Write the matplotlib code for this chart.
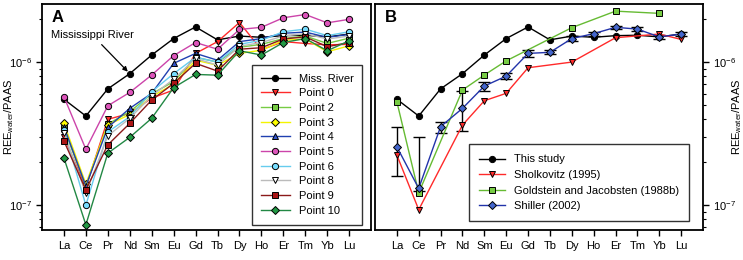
import numpy as np
import matplotlib
matplotlib.use("Agg")
import matplotlib.pyplot as plt
from matplotlib.ticker import LogLocator, NullFormatter

plt.rcParams['font.family'] = ['Liberation Sans', 'DejaVu Sans']
plt.rcParams['mathtext.fontset'] = 'custom'
plt.rcParams['mathtext.rm'] = 'Liberation Sans'

# REE labels
ree = ["La", "Ce", "Pr", "Nd", "Sm", "Eu", "Gd", "Tb", "Dy", "Ho", "Er", "Tm", "Yb", "Lu"]

# panel A  (REE_water / PAAS)
miss_river = [5.5e-7, 4.2e-7, 6.5e-7, 8.3e-7, 1.12e-6, 1.46e-6, 1.76e-6, 1.43e-6, 1.52e-6, 1.49e-6, 1.53e-6, 1.54e-6, 1.50e-6, 1.57e-6]
point0 = [3.0e-7, 1.33e-7, 3.98e-7, 4.38e-7, 5.6e-7, 6.38e-7, 1.15e-6, 1.39e-6, 1.89e-6, 1.22e-6, 1.39e-6, 1.35e-6, 1.32e-6, 1.33e-6]
point2 = [3.45e-7, 1.35e-7, 3.69e-7, 4.5e-7, 6.0e-7, 7.3e-7, 1.08e-6, 1.0e-6, 1.27e-6, 1.33e-6, 1.46e-6, 1.52e-6, 1.35e-6, 1.47e-6]
point3 = [3.73e-7, 1.41e-7, 3.64e-7, 4.3e-7, 5.75e-7, 7.0e-7, 1.03e-6, 9.5e-7, 1.15e-6, 1.21e-6, 1.42e-6, 1.45e-6, 1.18e-6, 1.30e-6]
point4 = [3.54e-7, 1.36e-7, 3.5e-7, 4.75e-7, 6.05e-7, 9.8e-7, 1.15e-6, 1.03e-6, 1.39e-6, 1.46e-6, 1.59e-6, 1.62e-6, 1.49e-6, 1.56e-6]
point5 = [5.73e-7, 2.46e-7, 4.95e-7, 6.14e-7, 8.12e-7, 1.11e-6, 1.37e-6, 1.23e-6, 1.69e-6, 1.75e-6, 2.04e-6, 2.15e-6, 1.88e-6, 1.99e-6]
point6 = [3.35e-7, 1.0e-7, 3.25e-7, 4.15e-7, 6.21e-7, 8.3e-7, 1.08e-6, 1.0e-6, 1.33e-6, 1.42e-6, 1.63e-6, 1.70e-6, 1.53e-6, 1.63e-6]
point8 = [3.2e-7, 1.21e-7, 3.05e-7, 4.05e-7, 5.8e-7, 7.6e-7, 1.06e-6, 9.5e-7, 1.29e-6, 1.37e-6, 1.52e-6, 1.58e-6, 1.45e-6, 1.52e-6]
point9 = [2.81e-7, 1.28e-7, 2.64e-7, 3.73e-7, 5.43e-7, 7.1e-7, 9.8e-7, 8.65e-7, 1.23e-6, 1.26e-6, 1.45e-6, 1.50e-6, 1.28e-6, 1.37e-6]
point10 = [2.14e-7, 7.3e-8, 2.31e-7, 2.98e-7, 4.05e-7, 6.63e-7, 8.2e-7, 8.1e-7, 1.2e-6, 1.12e-6, 1.37e-6, 1.46e-6, 1.2e-6, 1.41e-6]

# panel B  (nan = not reported)
this_study = miss_river
sholkovitz = [2.24e-7, 9.3e-8, np.nan, 3.63e-7, 5.37e-7, 6.05e-7, 9.13e-7, np.nan, 1.0e-6, np.nan, 1.48e-6, np.nan, 1.57e-6, 1.44e-6]
goldstein = [5.28e-7, 1.22e-7, np.nan, 6.38e-7, 8.12e-7, 1.02e-6, np.nan, np.nan, 1.74e-6, np.nan, 2.27e-6, np.nan, 2.19e-6, np.nan]
shiller = [2.56e-7, 1.31e-7, 3.54e-7, 4.75e-7, 6.8e-7, 7.98e-7, 1.15e-6, 1.17e-6, 1.46e-6, 1.58e-6, 1.75e-6, 1.70e-6, 1.50e-6, 1.57e-6]
shiller_lo = [1.61e-7, 1.25e-7, 3.2e-7, 3.3e-7, 6.3e-7, 7.6e-7, 1.09e-6, 1.13e-6, 1.40e-6, 1.53e-6, 1.70e-6, 1.65e-6, 1.46e-6, 1.52e-6]
shiller_hi = [3.5e-7, 3.0e-7, 3.83e-7, 6.3e-7, 7.3e-7, 8.4e-7, 1.21e-6, 1.21e-6, 1.52e-6, 1.63e-6, 1.80e-6, 1.75e-6, 1.54e-6, 1.62e-6]

x = np.arange(len(ree))
YLIM = (6.7e-8, 2.55e-6)

fig = plt.figure(figsize=(7.43, 2.6), dpi=100)
axA = fig.add_axes([0.0565, 0.115, 0.443, 0.870])
axB = fig.add_axes([0.5047, 0.115, 0.4415, 0.870])

ms = 4.5
mew = 0.7

seriesA = [
    ("Miss. River", miss_river, "black", "o", "black"),
    ("Point 0", point0, "#ff2a2a", "v", "#ff2a2a"),
    ("Point 2", point2, "#77cc44", "s", "#77cc44"),
    ("Point 3", point3, "#f4f400", "D", "#ffff00"),
    ("Point 4", point4, "#2040b0", "^", "#3355cc"),
    ("Point 5", point5, "#cc44aa", "o", "#dd55bb"),
    ("Point 6", point6, "#66ccee", "o", "#77ddff"),
    ("Point 8", point8, "#bbbbbb", "v", "white"),
    ("Point 9", point9, "#8b1a1a", "s", "#aa1515"),
    ("Point 10", point10, "#228844", "D", "#229944"),
]

for name, vals, col, mk, fc in seriesA:
    m = ms - 0.8 if mk == "D" else ms
    axA.plot(x, vals, color=col, lw=1.0, marker=mk, ms=m, mfc=fc, mec="black", mew=mew, label=name)

axA.annotate("Mississippi River", xy=(3, miss_river[3]), xytext=(-0.6, 1.55e-6),
             fontsize=8, ha="left", va="center",
             arrowprops=dict(arrowstyle="-|>", color="black", lw=0.9, mutation_scale=7))
axA.text(-0.55, 2.05e-6, "A", fontsize=12, fontweight="bold", va="center")

legA = axA.legend(loc="lower right", fontsize=8, frameon=True, fancybox=False,
                  edgecolor="black", borderpad=0.8, labelspacing=0.42, handlelength=2.6,
                  bbox_to_anchor=(0.99, 0.0))
legA.get_frame().set_linewidth(1.0)

# panel B
def draw(ax, vals, col, mk, fc, name, m=ms):
    v = np.array(vals, dtype=float)
    ok = ~np.isnan(v)
    ax.plot(x[ok], v[ok], color=col, lw=1.0, marker=mk, ms=m, mfc=fc, mec="black", mew=mew, label=name)

sh = np.array(shiller)
yerr = [sh - np.array(shiller_lo), np.array(shiller_hi) - sh]
axB.errorbar(x, sh, yerr=yerr, fmt="none", ecolor="black", elinewidth=1.0, capsize=4.5, capthick=1.0, zorder=1)

draw(axB, this_study, "black", "o", "black", "This study")
draw(axB, sholkovitz, "#ff2a2a", "v", "#ff2a2a", "Sholkovitz (1995)")
draw(axB, goldstein, "#66bb33", "s", "#77cc44", "Goldstein and Jacobsten (1988b)")
draw(axB, shiller, "#2233aa", "D", "#4466cc", "Shiller (2002)", m=ms - 0.8)

axB.text(-0.55, 2.05e-6, "B", fontsize=12, fontweight="bold", va="center")

legB = axB.legend(loc="lower right", fontsize=8, frameon=True, fancybox=False,
                  edgecolor="black", borderpad=0.9, labelspacing=0.5, handlelength=2.4,
                  bbox_to_anchor=(0.975, 0.015))
legB.get_frame().set_linewidth(1.0)

for ax in (axA, axB):
    ax.set_yscale("log")
    ax.set_ylim(*YLIM)
    ax.set_xlim(-1, 14)
    ax.set_xticks(x)
    ax.set_xticklabels(ree, fontsize=8)
    ax.yaxis.set_major_locator(LogLocator(base=10, numticks=10))
    ax.yaxis.set_minor_locator(LogLocator(base=10, subs=np.arange(2, 10), numticks=10))
    ax.yaxis.set_minor_formatter(NullFormatter())
    ax.tick_params(axis="both", which="major", direction="out", length=4, width=1, labelsize=8)
    ax.tick_params(axis="y", which="minor", direction="out", length=2.5, width=0.8)
    for s in ax.spines.values():
        s.set_linewidth(1.3)

axA.set_ylabel("REE$_{\\mathregular{water}}$/PAAS", fontsize=8)
axA.yaxis.set_label_coords(-0.078, 0.5)
axB.yaxis.tick_right()
axB.yaxis.set_label_position("right")
axB.set_ylabel("REE$_{\\mathregular{water}}$/PAAS", fontsize=8)
axB.yaxis.set_label_coords(1.083, 0.5)

fig.savefig("out.png", dpi=100)
